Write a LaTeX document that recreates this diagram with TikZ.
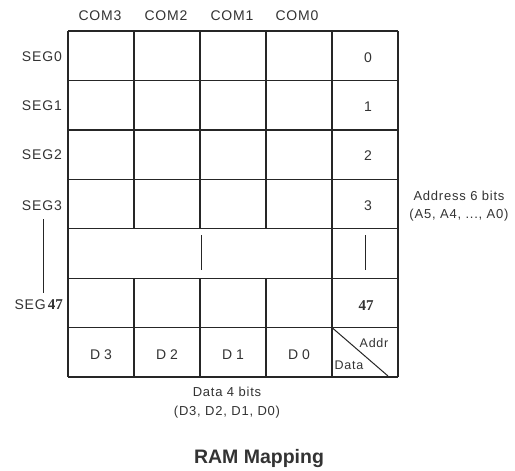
\documentclass[tikz,border=0pt]{standalone}
\usepackage{fontspec}
\setmainfont{Liberation Sans}[LetterSpace=6]
\newfontfamily\numfont{Liberation Serif}
\newfontfamily\titlefont{Liberation Sans}
\begin{document}
\begin{tikzpicture}[x=1pt,y=-1pt,
  lbl/.style={inner sep=0pt,font=\fontsize{14}{15}\selectfont,text=black!80},
  seglbl/.style={lbl,anchor=east},
  gridline/.style={line width=1.2pt,draw=black!85},
  thin/.style={line width=1pt,draw=black!85}]
\useasboundingbox[fill=white] (0,0) rectangle (515,471);
% grid
\foreach \y in {31,80.4,129.9,179.3,228.7,278.1,327.6,377}
  \draw[gridline] (68,\y) -- (398,\y);
\foreach \x in {68,332,398}
  \draw[gridline] (\x,31) -- (\x,377);
\foreach \x in {134,200,266}{
  \draw[gridline] (\x,31) -- (\x,228.7);
  \draw[gridline] (\x,278.1) -- (\x,377);}
\draw[thin] (201,235) -- (201,270);
\draw[thin] (365,235) -- (365,270);
\coordinate (dtop) at (332,327.6);
\coordinate (dbot) at (388,376);
\draw[thin] (dtop) -- (dbot);
% column labels
\node[lbl] (com3) at (100,16) {COM3};
\node[lbl] (com2) at (166,16) {COM2};
\node[lbl] (com1) at (232,16) {COM1};
\node[lbl] (com0) at (297,16) {COM0};
% row labels
\node[seglbl] (seg0) at (62,57) {SEG0};
\node[seglbl] (seg1) at (62,106) {SEG1};
\node[seglbl] (seg2) at (62,155) {SEG2};
\node[seglbl] (seg3) at (62,206) {SEG3};
\node[seglbl] (seg47) at (63,305) {SEG\hspace{2pt}{\numfont\bfseries\fontsize{15}{16}\selectfont 47}};
\coordinate (sa) at (43,219);
\coordinate (sb) at (43,293);
\draw[thin] (sa) -- (sb);
% addresses
\node[lbl] (a0) at (368,58) {0};
\node[lbl] (a1) at (368,107) {1};
\node[lbl] (a2) at (368,156) {2};
\node[lbl] (a3) at (368,206) {3};
\node[lbl,font=\numfont\bfseries\fontsize{15}{16}\selectfont] (a47) at (366,306) {47};
% data bits
\node[lbl] (d3) at (101,355) {D\hspace{4pt}3};
\node[lbl] (d2) at (167,355) {D\hspace{4pt}2};
\node[lbl] (d1) at (233,355) {D\hspace{4pt}1};
\node[lbl] (d0) at (299,355) {D\hspace{4pt}0};
\node[lbl,font=\fontsize{12.5}{13}\selectfont] (addr) at (374,343) {Addr};
\node[lbl,font=\fontsize{12.5}{13}\selectfont] (data) at (349,365) {Data};
% descriptions
\node[lbl,align=center,font=\fontsize{13}{18.5}\selectfont] (adesc) at (459,206) {Address 6 bits\\(A5, A4, ..., A0)};
\node[lbl,align=center,font=\fontsize{13}{19}\selectfont] (ddesc) at (227,403) {Data 4 bits\\(D3, D2, D1, D0)};
\node[lbl,font=\titlefont\bfseries\fontsize{19.5}{21}\selectfont] (title) at (259,458) {RAM Mapping};
\end{tikzpicture}
\end{document}
